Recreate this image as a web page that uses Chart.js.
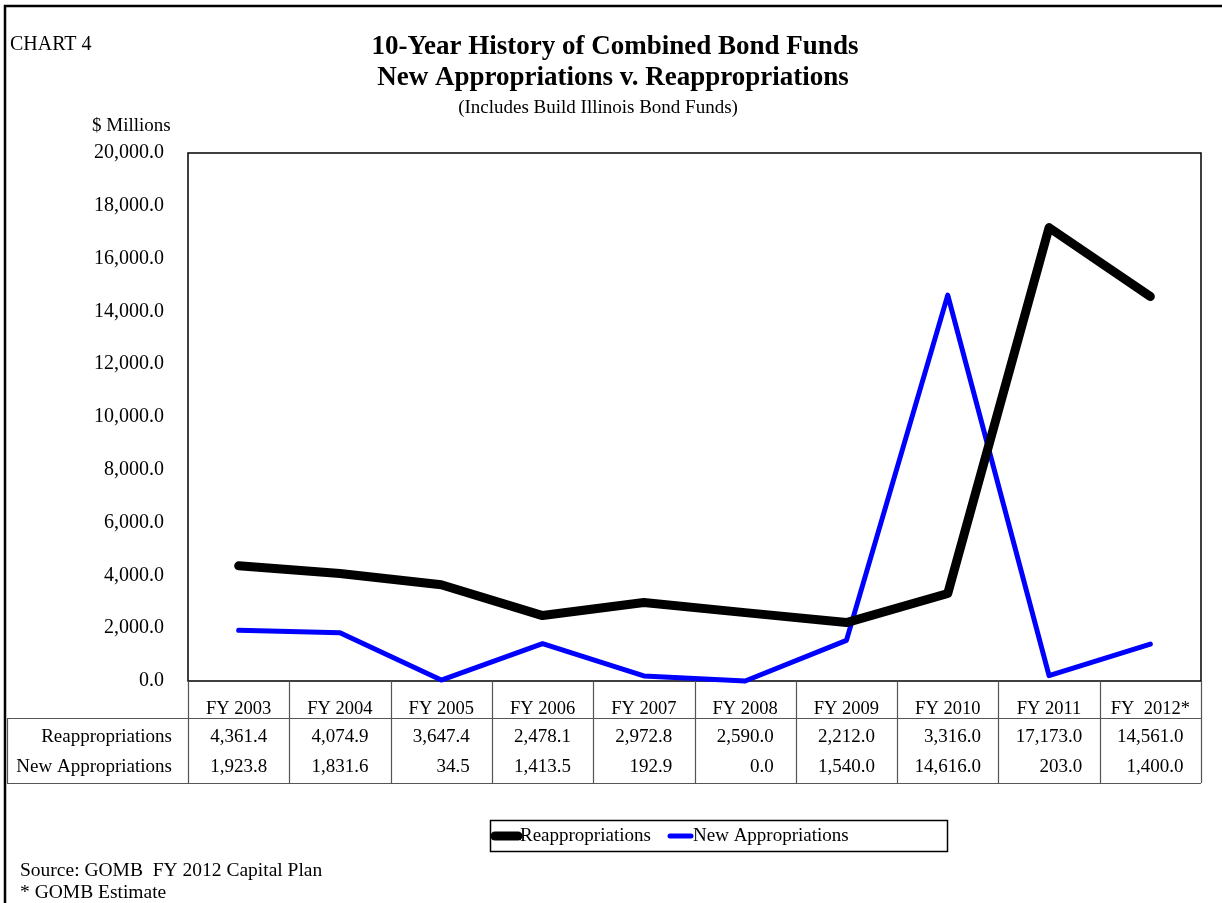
<!DOCTYPE html>
<html>
<head>
<meta charset="utf-8">
<title>Combined Bond Funds</title>
<script src="https://cdn.jsdelivr.net/npm/chart.js@4"></script>
<style>
  html, body { margin: 0; padding: 0; background: #fff; }
  canvas { display: block; }
</style>
</head>
<body>
<canvas id="chart" width="1222" height="903"></canvas>
<script>
const years = ['FY 2003', 'FY 2004', 'FY 2005', 'FY 2006', 'FY 2007', 'FY 2008', 'FY 2009', 'FY 2010', 'FY 2011', 'FY  2012*'];
const reappropriations = [4361.4, 4074.9, 3647.4, 2478.1, 2972.8, 2590.0, 2212.0, 3316.0, 17173.0, 14561.0];
const newAppropriations = [1923.8, 1831.6, 34.5, 1413.5, 192.9, 0.0, 1540.0, 14616.0, 203.0, 1400.0];

const FONT = "'Liberation Serif', 'Times New Roman', serif";

function fmt(v) {
  return v.toLocaleString('en-US', { minimumFractionDigits: 1, maximumFractionDigits: 1 });
}

// frame, titles, data table, legend and notes
const decorations = {
  id: 'decorations',
  beforeDatasetsDraw(chart) {
    const { ctx, chartArea: a } = chart;
    ctx.save();
    ctx.strokeStyle = '#000';
    ctx.lineWidth = 1.5;
    ctx.strokeRect(a.left, a.top, a.right - a.left, a.bottom - a.top);
    ctx.restore();
  },
  afterDraw(chart) {
    const { ctx, chartArea: a } = chart;
    const x = chart.scales.x;
    ctx.save();

    // outer frame
    ctx.strokeStyle = '#000';
    ctx.lineWidth = 2.5;
    ctx.beginPath();
    ctx.moveTo(5, 903);
    ctx.lineTo(5, 6);
    ctx.lineTo(1222, 6);
    ctx.stroke();

    ctx.fillStyle = '#000';
    ctx.textBaseline = 'middle';
    ctx.font = '20px ' + FONT;
    ctx.textAlign = 'left';
    ctx.fillText('CHART 4', 10, 45);

    ctx.textAlign = 'center';
    ctx.font = 'bold 27px ' + FONT;
    ctx.fillText('10-Year History of Combined Bond Funds', 615, 47);
    ctx.fillText('New Appropriations v. Reappropriations', 613, 78);
    ctx.font = '19px ' + FONT;
    ctx.fillText('(Includes Build Illinois Bond Funds)', 598, 108);

    ctx.font = '19px ' + FONT;
    ctx.textAlign = 'left';
    ctx.fillText('$ Millions', 92, 126);

    // data table under the plot
    const rowTop = 718, rowBottom = 783, tableLeft = 7;
    const step = x.getPixelForValue(1) - x.getPixelForValue(0);
    ctx.strokeStyle = '#555';
    ctx.lineWidth = 1.2;
    ctx.beginPath();
    for (let i = 0; i <= years.length; i++) {
      const px = Math.round(x.getPixelForValue(i) - step / 2) + 0.5;
      ctx.moveTo(px, a.bottom);
      ctx.lineTo(px, rowBottom);
    }
    ctx.moveTo(tableLeft, rowTop + 0.5);
    ctx.lineTo(a.right, rowTop + 0.5);
    ctx.moveTo(tableLeft, rowBottom + 0.5);
    ctx.lineTo(a.right, rowBottom + 0.5);
    ctx.moveTo(tableLeft + 0.5, rowTop);
    ctx.lineTo(tableLeft + 0.5, rowBottom);
    ctx.stroke();

    ctx.font = '19px ' + FONT;
    ctx.fillStyle = '#000';
    ctx.textAlign = 'right';
    const rowY = [737, 767];
    ctx.fillText(chart.data.datasets[0].label, 172, rowY[0]);
    ctx.fillText(chart.data.datasets[1].label, 172, rowY[1]);
    years.forEach((_, i) => {
      const c = x.getPixelForValue(i);
      const s1 = fmt(reappropriations[i]);
      const s2 = fmt(newAppropriations[i]);
      const w = Math.max(ctx.measureText(s1).width, ctx.measureText(s2).width);
      ctx.fillText(s1, c + w / 2, rowY[0]);
      ctx.fillText(s2, c + w / 2, rowY[1]);
    });

    // legend box
    ctx.strokeStyle = '#000';
    ctx.lineWidth = 1.5;
    ctx.strokeRect(490.5, 820.5, 457, 31);
    ctx.lineCap = 'round';
    chart.data.datasets.forEach((ds, i) => {
      const x0 = i === 0 ? 495 : 670;
      const x1 = i === 0 ? 518 : 691;
      ctx.strokeStyle = ds.borderColor;
      ctx.lineWidth = i === 0 ? 9 : 5;
      ctx.beginPath();
      ctx.moveTo(x0, 836);
      ctx.lineTo(x1, 836);
      ctx.stroke();
      ctx.textAlign = 'left';
      ctx.fillStyle = '#000';
      ctx.fillText(ds.label, x1 + 2, 836);
    });

    ctx.font = '19.5px ' + FONT;
    ctx.fillText('Source: GOMB  FY 2012 Capital Plan', 20, 871);
    ctx.fillText('* GOMB Estimate', 20, 893);
    ctx.restore();
  }
};

new Chart(document.getElementById('chart'), {
  type: 'line',
  data: {
    labels: years,
    datasets: [
      {
        label: 'Reappropriations',
        data: reappropriations,
        borderColor: '#000000',
        borderWidth: 9,
        borderJoinStyle: 'round',
        borderCapStyle: 'round',
        pointRadius: 0,
        tension: 0,
        clip: 10
      },
      {
        label: 'New Appropriations',
        data: newAppropriations,
        borderColor: '#0000ff',
        borderWidth: 5,
        borderJoinStyle: 'round',
        borderCapStyle: 'round',
        pointRadius: 0,
        tension: 0,
        clip: 10
      }
    ]
  },
  options: {
    responsive: false,
    animation: false,
    layout: { padding: { left: 0, right: 21, top: 153, bottom: 185 } },
    plugins: { legend: { display: false }, tooltip: { enabled: false } },
    scales: {
      x: {
        offset: true,
        grid: { display: false, drawTicks: false },
        border: { display: false },
        ticks: { color: '#000', font: { family: FONT, size: 18.5 }, padding: 17, maxRotation: 0, autoSkip: false },
        afterFit(s) { s.height = 37; }
      },
      y: {
        min: 0,
        max: 20000,
        grid: { display: false, drawTicks: false },
        border: { display: false },
        ticks: { stepSize: 2000, color: '#000', font: { family: FONT, size: 20 }, padding: 24, callback: v => fmt(v) },
        afterFit(s) { s.width = 188; }
      }
    }
  },
  plugins: [decorations]
});
</script>
</body>
</html>
